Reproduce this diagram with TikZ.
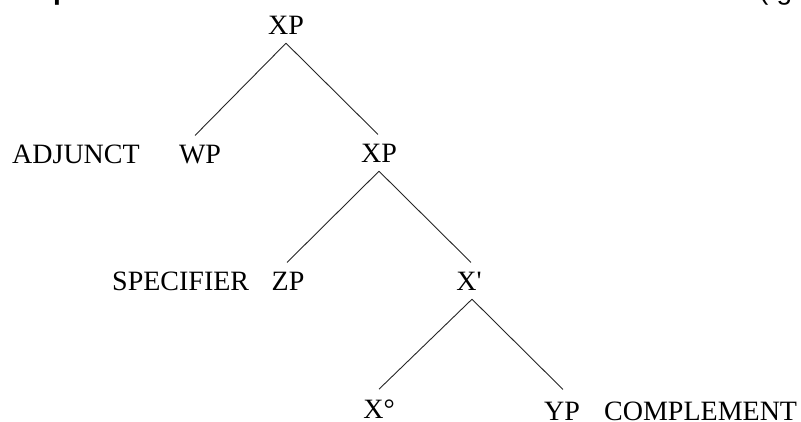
\documentclass[tikz,border=0pt]{standalone}
\usepackage{fontspec}
\setmainfont{Liberation Serif}
\newfontfamily\headfont{Liberation Sans}
\begin{document}
\begin{tikzpicture}[x=1pt,y=-1pt,
  lbl/.style={font=\fontsize{28}{30}\selectfont, inner xsep=0pt, inner ysep=9pt, anchor=base},
  lowlbl/.style={font=\fontsize{28}{30}\selectfont, inner sep=0pt, anchor=base},
  tag/.style={font=\fontsize{28}{30}\selectfont, inner sep=0pt, anchor=base west},
  edge/.style={draw=black!85, line width=0.9pt}]
\useasboundingbox (0,0) rectangle (801,421);
% clipped heading fragments
\node[inner sep=0pt, anchor=base west, font=\headfont\bfseries\fontsize{28}{30}\selectfont] (hp) at (53,-1) {p};
\node[inner sep=0pt, anchor=base west, font=\headfont\fontsize{28}{30}\selectfont] (hg) at (759,-1) {(\kern8pt g};
% tree nodes
\node[lbl] (xp1) at (286,34) {XP};
\node[lbl] (wp) at (200,163) {WP};
\node[lbl] (xp2) at (379,162) {XP};
\node[lbl] (zp) at (288,290) {ZP};
\node[lbl] (xbar) at (469,290) {X\textquotesingle};
\node[lowlbl] (x0) at (379,418) {X°};
\node[lowlbl] (yp) at (562,420) {YP};
% side labels
\node[tag] (adj) at (12,163) {ADJUNCT};
\node[tag] (spec) at (112,290) {SPECIFIER};
\node[tag] (comp) at (604,420) {COMPLEMENT};
% branches
\draw[edge] (xp1.south) -- ([xshift=-5pt]wp.north);
\draw[edge] (xp1.south) -- ([xshift=-1pt]xp2.north);
\draw[edge] (xp2.south) -- ([xshift=-1pt]zp.north);
\draw[edge] (xp2.south) -- ([xshift=2pt]xbar.north);
\draw[edge] ([xshift=3pt]xbar.south) -- ([yshift=10pt]x0.north);
\draw[edge] ([xshift=3pt]xbar.south) -- ([xshift=1pt,yshift=12pt]yp.north);
\end{tikzpicture}
\end{document}
